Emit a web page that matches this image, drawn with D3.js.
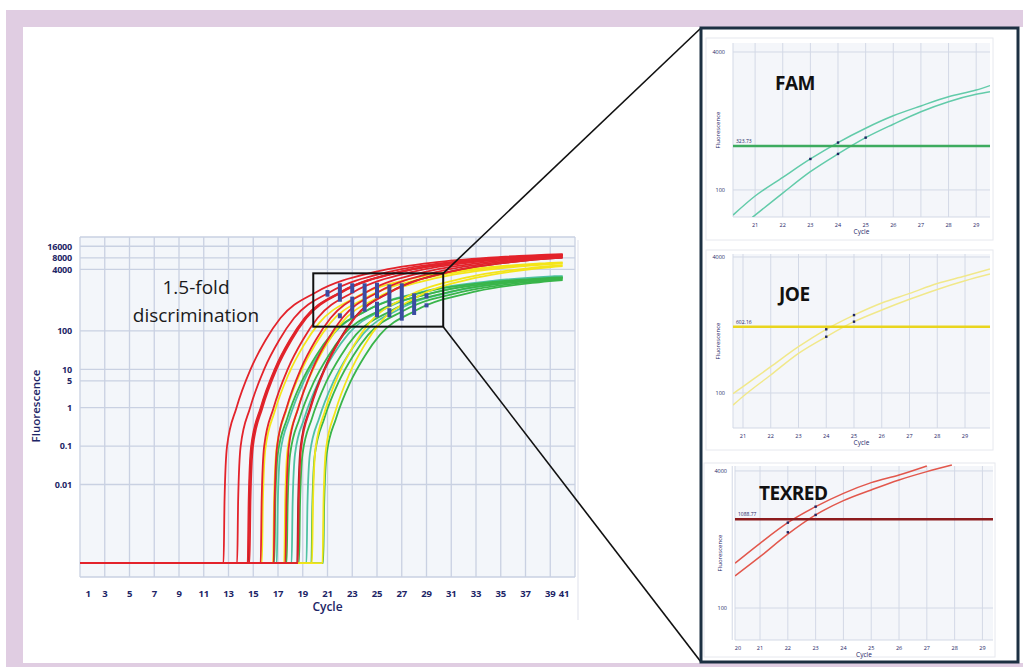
<!DOCTYPE html>
<html>
<head>
<meta charset="utf-8">
<script src="https://cdn.jsdelivr.net/npm/d3@7"></script>
<style>
  body { margin: 0; background: #fff; }
  svg { display: block; font-family: "Open Sans", "Noto Sans", sans-serif; }
</style>
</head>
<body>
<svg id="chart"></svg>
<script>
// ---- main amplification plot data ----
const cycleTicks = [1, 3, 5, 7, 9, 11, 13, 15, 17, 19, 21, 23, 25, 27, 29, 31, 33, 35, 37, 39, 41];
const fluoTicks = [0.01, 0.1, 1, 5, 10, 100, 4000, 8000, 16000];
const fluoTickLabels = ["0.01", "0.1", "1", "5", "10", "100", "4000", "8000", "16000"];

// onset cycle of every curve (where it leaves the baseline)
const redOnsets = [12.6, 13.7, 14.55, 14.7, 15.6, 16.65, 17.6, 18.6];
const darkRedOnsets = [14.6, 18.55];
const yellowOnsets = [15.7, 16.6, 17.5, 19.75, 20.6];
const greenOnsets = [16.7, 17.7, 18.7, 19.7, 20.65];
const tealOnsets = [16.9, 18.1, 19.3];
const plateaus = { red: 10000, yellow: 6700, green: 2850, teal: 3100 };
const baselineValue = 9e-5;

// shape of one amplification curve:
// cycles after onset, and fraction of the way (on log axis) from baseline to plateau
const profileDc = [0, 0.08, 0.28, 1.04, 2.18, 3.39, 4.6, 7.44, 12.44, 17.44, 22.44, 27.44];
const profileU = [0, 0.204, 0.378, 0.502, 0.627, 0.721, 0.793, 0.876, 0.944, 0.975, 0.991, 1];

// blue delta-Cq bars in the zoom box: cycle, top value, bottom value
const bars = [
  [21, 1160, 780],
  [22, 1740, 575], [22, 287, 213],
  [23, 1740, 955], [23, 780, 213],
  [24, 1740, 316],
  [25, 1800, 705], [25, 575, 226],
  [26, 1625, 427], [26, 390, 226],
  [27, 1740, 185],
  [28, 955, 260],
  [29, 955, 705], [29, 523, 410]
];
const zoomBox = { c0: 19.85, c1: 30.35, vTop: 3160, vBottom: 129 };

// ---- inset data ----
const insetCycles = {
  fam: [21, 22, 23, 24, 25, 26, 27, 28, 29],
  joe: [21, 22, 23, 24, 25, 26, 27, 28, 29],
  texred: [20, 21, 22, 23, 24, 25, 26, 27, 28, 29]
};
const famUpper = [[20.2, 51], [21, 85], [22, 140], [23, 229], [24, 355], [25, 521], [26, 726], [27, 946], [28, 1210], [29, 1445], [29.5, 1630]];
const famLower = [[20.9, 48], [22, 92], [23, 163], [24, 262], [25, 405], [26, 580], [27, 810], [28, 1060], [29, 1290], [29.5, 1380]];
const famDots = [[23, 229], [24, 355], [24, 262], [25, 405]];
const famThreshold = 323.73;

const joeUpper = [[20.64, 98], [21, 119], [22, 204], [23, 351], [24, 563], [25, 828], [26, 1150], [27, 1490], [28, 1950], [29, 2390], [29.9, 2890]];
const joeLower = [[20.64, 72], [21, 91], [22, 163], [23, 293], [24, 460], [25, 692], [26, 950], [27, 1270], [28, 1660], [29, 2100], [29.9, 2520]];
const joeDots = [[24, 563], [25, 828], [24, 460], [25, 692]];
const joeThreshold = 602.16;

const texUpper = [[20.1, 334], [21, 571], [22, 995], [23, 1530], [24, 2190], [25, 2920], [26, 3590], [27, 4580]];
const texLower = [[20.1, 237], [21, 398], [22, 730], [23, 1225], [24, 1800], [25, 2400], [26, 3140], [27, 3930], [27.9, 4700]];
const texDots = [[22, 995], [23, 1530], [22, 768], [23, 1225]];
const texThreshold = 1088.77;

// ---- layout ----
const W = 1023, H = 667;
const navy = "#1d2566";
const svg = d3.select("#chart").attr("width", W).attr("height", H);

svg.append("rect").attr("width", W).attr("height", H).attr("fill", "#fff");
svg.append("rect").attr("x", 6).attr("y", 10).attr("width", W - 6).attr("height", H - 10).attr("fill", "#e0cde2");
svg.append("rect").attr("x", 23).attr("y", 27).attr("width", W - 23).attr("height", 636).attr("fill", "#fff");

// main chart
const x = d3.scaleLinear().domain([1, 41]).range([80, 575]);
const y = d3.scaleLog().domain([3.9e-5, 27900]).range([577, 237]);

const main = svg.append("g");
main.append("rect")
  .attr("x", x(1)).attr("y", y(27900))
  .attr("width", x(41) - x(1)).attr("height", y(3.9e-5) - y(27900))
  .attr("fill", "#f3f6fa");

main.append("g").selectAll("line").data(cycleTicks).join("line")
  .attr("x1", d => x(d)).attr("x2", d => x(d))
  .attr("y1", y(27900)).attr("y2", y(3.9e-5))
  .attr("stroke", "#c9d1e2").attr("stroke-width", 1.3);
main.append("g").selectAll("line").data(fluoTicks.concat([27900, 3.9e-5])).join("line")
  .attr("x1", x(1)).attr("x2", x(41))
  .attr("y1", d => y(d)).attr("y2", d => y(d))
  .attr("stroke", "#c9d1e2").attr("stroke-width", 1.3);
main.append("line")
  .attr("x1", 578).attr("x2", 578).attr("y1", 240).attr("y2", 620)
  .attr("stroke", "#e4e6ee").attr("stroke-width", 1.2);

// tick labels
main.append("g").selectAll("text").data(cycleTicks).join("text")
  .attr("x", (d, i) => x(d) + (i === 0 ? 8 : i === cycleTicks.length - 1 ? -11 : 0))
  .attr("y", 597)
  .attr("text-anchor", "middle")
  .attr("font-size", 9.5).attr("font-weight", 700).attr("fill", navy)
  .attr("letter-spacing", -0.2)
  .text(d => d);
main.append("g").selectAll("text").data(fluoTicks).join("text")
  .attr("x", 72).attr("y", d => y(d) + 3.3)
  .attr("text-anchor", "end")
  .attr("font-size", 9).attr("font-weight", 700).attr("fill", navy)
  .attr("letter-spacing", -0.2)
  .text((d, i) => fluoTickLabels[i]);

main.append("text")
  .attr("x", x(21)).attr("y", 611)
  .attr("text-anchor", "middle")
  .attr("font-size", 12).attr("font-weight", 600).attr("fill", navy)
  .text("Cycle");
main.append("text")
  .attr("transform", "translate(40,406) rotate(-90)")
  .attr("text-anchor", "middle")
  .attr("font-size", 11.5).attr("font-weight", 600).attr("fill", navy)
  .text("Fluorescence");

main.append("text").attr("x", 196).attr("y", 294)
  .attr("text-anchor", "middle").attr("font-size", 19).attr("fill", "#1a1a1a")
  .text("1.5-fold");
main.append("text").attr("x", 196).attr("y", 322)
  .attr("text-anchor", "middle").attr("font-size", 19).attr("fill", "#1a1a1a")
  .text("discrimination");

// amplification curves
svg.append("clipPath").attr("id", "mainClip")
  .append("rect").attr("x", x(1)).attr("y", y(27900))
  .attr("width", x(40) - x(1)).attr("height", y(3.9e-5) - y(27900));

const line = d3.line().x(d => x(d[0])).y(d => y(d[1])).curve(d3.curveMonotoneX);

function curvePoints(onset, plateau) {
  const lb = Math.log10(baselineValue), lp = Math.log10(plateau);
  const pts = [[1, baselineValue]];
  profileDc.forEach((dc, i) => {
    pts.push([onset + dc, Math.pow(10, lb + profileU[i] * (lp - lb))]);
  });
  return pts;
}

const curveGroup = main.append("g").attr("clip-path", "url(#mainClip)")
  .attr("fill", "none").attr("stroke-width", 1.8);

const curveSets = [
  { onsets: tealOnsets, plateau: plateaus.teal, color: "#4fc2a4" },
  { onsets: greenOnsets, plateau: plateaus.green, color: "#39b54a" },
  { onsets: yellowOnsets, plateau: plateaus.yellow, color: "#f4e51a" },
  { onsets: darkRedOnsets, plateau: plateaus.red, color: "#9e1f22" },
  { onsets: redOnsets, plateau: plateaus.red, color: "#e3232b" }
];
curveSets.forEach(set => {
  curveGroup.append("g").selectAll("path").data(set.onsets).join("path")
    .attr("d", d => line(curvePoints(d, set.plateau)))
    .attr("stroke", set.color);
});

// zoom box and blue bars
main.append("g").selectAll("rect").data(bars).join("rect")
  .attr("x", d => x(d[0]) - 2).attr("width", 4)
  .attr("y", d => y(d[1])).attr("height", d => y(d[2]) - y(d[1]))
  .attr("fill", "#3a4ba2");
main.append("rect")
  .attr("x", x(zoomBox.c0)).attr("y", y(zoomBox.vTop))
  .attr("width", x(zoomBox.c1) - x(zoomBox.c0)).attr("height", y(zoomBox.vBottom) - y(zoomBox.vTop))
  .attr("fill", "none").attr("stroke", "#111").attr("stroke-width", 2);

// right panel
const panel = { x: 701, y: 28, w: 317, h: 634 };
svg.append("line")
  .attr("x1", x(zoomBox.c1)).attr("y1", y(zoomBox.vTop)).attr("x2", panel.x).attr("y2", panel.y)
  .attr("stroke", "#111").attr("stroke-width", 1.6);
svg.append("line")
  .attr("x1", x(zoomBox.c1)).attr("y1", y(zoomBox.vBottom)).attr("x2", panel.x).attr("y2", panel.y + panel.h)
  .attr("stroke", "#111").attr("stroke-width", 1.6);
svg.append("rect")
  .attr("x", panel.x).attr("y", panel.y).attr("width", panel.w).attr("height", panel.h)
  .attr("fill", "#fff").attr("stroke", "#1c3042").attr("stroke-width", 3);

function drawInset(cfg) {
  const g = svg.append("g");
  const ix = d3.scaleLinear().domain(cfg.xDomain).range([cfg.left, cfg.right]);
  const iy = d3.scaleLog().domain(cfg.yDomain).range([cfg.bottom, cfg.top]);

  g.append("rect")
    .attr("x", cfg.frame[0]).attr("y", cfg.frame[1]).attr("width", cfg.frame[2]).attr("height", cfg.frame[3])
    .attr("fill", "#fff").attr("stroke", "#e6e8ee").attr("stroke-width", 1);
  g.append("rect")
    .attr("x", cfg.left).attr("y", cfg.top).attr("width", cfg.right - cfg.left).attr("height", cfg.bottom - cfg.top)
    .attr("fill", "#f4f6fa");
  g.append("g").selectAll("line").data(cfg.cycles).join("line")
    .attr("x1", d => ix(d)).attr("x2", d => ix(d)).attr("y1", cfg.top).attr("y2", cfg.bottom)
    .attr("stroke", "#d3d9e6").attr("stroke-width", 1);
  g.append("g").selectAll("line").data([100, 4000]).join("line")
    .attr("x1", cfg.left).attr("x2", cfg.right).attr("y1", d => iy(d)).attr("y2", d => iy(d))
    .attr("stroke", "#d3d9e6").attr("stroke-width", 1);
  g.append("line").attr("x1", cfg.left).attr("x2", cfg.left).attr("y1", cfg.top).attr("y2", cfg.bottom)
    .attr("stroke", "#d3d9e6");
  g.append("line").attr("x1", cfg.left).attr("x2", cfg.right).attr("y1", cfg.bottom).attr("y2", cfg.bottom)
    .attr("stroke", "#d3d9e6");

  g.append("g").selectAll("text").data(cfg.cycles).join("text")
    .attr("x", d => Math.max(ix(d), cfg.left + 3)).attr("y", cfg.bottom + 10)
    .attr("text-anchor", "middle").attr("font-size", 5.5).attr("fill", navy)
    .text(d => d);
  g.append("g").selectAll("text").data([100, 4000]).join("text")
    .attr("x", cfg.left - 8).attr("y", d => iy(d) + 2)
    .attr("text-anchor", "end").attr("font-size", 5.5).attr("fill", navy)
    .text(d => d);
  g.append("text").attr("x", (cfg.left + cfg.right) / 2).attr("y", cfg.bottom + 17)
    .attr("text-anchor", "middle").attr("font-size", 6.5).attr("fill", navy).text("Cycle");
  g.append("text")
    .attr("transform", `translate(${cfg.left - 13},${(cfg.top + cfg.bottom) / 2}) rotate(-90)`)
    .attr("text-anchor", "middle").attr("font-size", 6).attr("fill", navy).text("Fluorescence");

  const clipId = "clip-" + cfg.name;
  svg.append("clipPath").attr("id", clipId).append("rect")
    .attr("x", cfg.left).attr("y", cfg.top - 6).attr("width", cfg.right - cfg.left).attr("height", cfg.bottom - cfg.top + 6);
  const lg = g.append("g").attr("clip-path", `url(#${clipId})`);
  const iline = d3.line().x(d => ix(d[0])).y(d => iy(d[1])).curve(d3.curveMonotoneX);
  lg.selectAll("path").data(cfg.curves).join("path")
    .attr("d", iline).attr("fill", "none").attr("stroke", cfg.curveColor).attr("stroke-width", 1.5);
  g.append("line")
    .attr("x1", cfg.left).attr("x2", cfg.right).attr("y1", iy(cfg.threshold)).attr("y2", iy(cfg.threshold))
    .attr("stroke", cfg.thresholdColor).attr("stroke-width", 2.6);
  g.append("text").attr("x", cfg.left + 3).attr("y", iy(cfg.threshold) - 3)
    .attr("font-size", 5).attr("fill", navy).text(cfg.threshold);
  g.append("g").selectAll("rect").data(cfg.dots).join("rect")
    .attr("x", d => ix(d[0]) - 1.2).attr("y", d => iy(d[1]) - 1.2)
    .attr("width", 2.4).attr("height", 2.4).attr("fill", "#1c2461");

  g.append("text").attr("x", cfg.titleX).attr("y", cfg.titleY)
    .attr("font-size", 19).attr("font-weight", 700).attr("fill", "#111")
    .attr("letter-spacing", -0.5)
    .text(cfg.title);
}

drawInset({
  name: "fam", title: "FAM", titleX: 775, titleY: 90,
  frame: [706, 38, 287, 202],
  left: 733, right: 990, top: 43, bottom: 217,
  xDomain: [20.2, 29.5], yDomain: [48.5, 5090],
  cycles: insetCycles.fam,
  curves: [famUpper, famLower], dots: famDots, threshold: famThreshold,
  curveColor: "#62cba9", thresholdColor: "#3dab5f"
});
drawInset({
  name: "joe", title: "JOE", titleX: 779, titleY: 301,
  frame: [706, 250, 287, 200],
  left: 733, right: 990, top: 254, bottom: 428,
  xDomain: [20.64, 29.9], yDomain: [38.7, 4340],
  cycles: insetCycles.joe,
  curves: [joeUpper, joeLower], dots: joeDots, threshold: joeThreshold,
  curveColor: "#f1e88a", thresholdColor: "#e9d51e"
});
drawInset({
  name: "texred", title: "TEXRED", titleX: 759, titleY: 500,
  frame: [704, 463, 291, 194],
  left: 735, right: 993, top: 466, bottom: 640,
  xDomain: [20.1, 29.38], yDomain: [42.3, 4570],
  cycles: insetCycles.texred,
  curves: [texUpper, texLower], dots: texDots, threshold: texThreshold,
  curveColor: "#e2574c", thresholdColor: "#8c1b1d"
});
</script>
</body>
</html>
